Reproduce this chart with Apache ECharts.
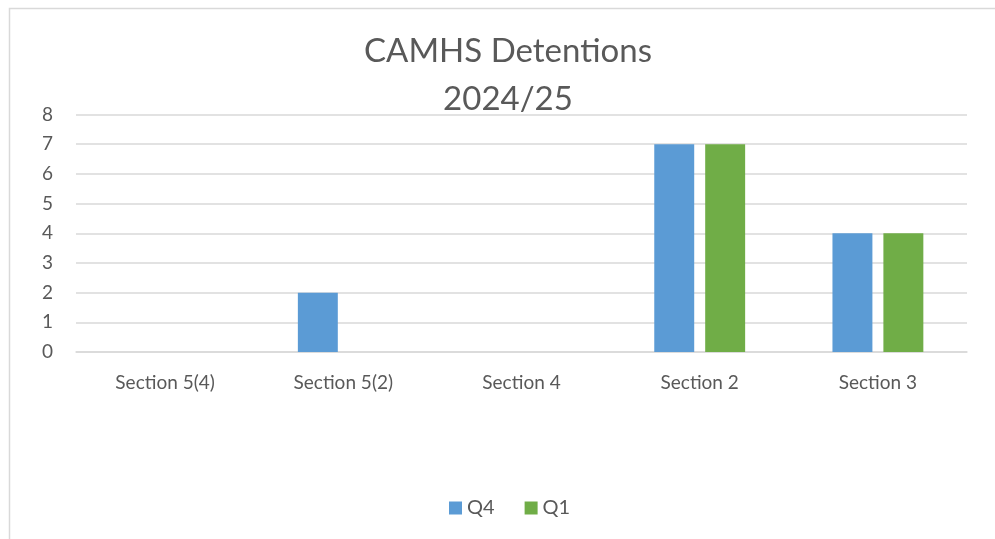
<!DOCTYPE html>
<html>
<head>
<meta charset="utf-8">
<script src="https://cdn.jsdelivr.net/npm/echarts@6/dist/echarts.min.js"></script>
<style>html,body{margin:0;padding:0;background:#fff}#c{width:995px;height:539px}</style>
</head>
<body>
<div id="c"></div>
<script>
const categories = ['Section 5(4)', 'Section 5(2)', 'Section 4', 'Section 2', 'Section 3'];
const q4Values = [0, 2, 0, 7, 4];
const q1Values = [0, 0, 0, 7, 4];
const seriesNames = ['Q4', 'Q1'];
const titleText = 'CAMHS Detentions\n2024/25';

const FONT = 'Lato, "Open Sans", sans-serif';
const chart = echarts.init(document.getElementById('c'));
chart.setOption({
  animation: false,
  color: ['#5B9BD5', '#70AD47'],
  graphic: [{
    type: 'rect', left: 7, top: 6, silent: true,
    shape: { width: 1000, height: 545 },
    style: { fill: 'none', stroke: '#d9d9d9', lineWidth: 1.5 }
  }],
  title: {
    text: titleText, left: 503, textAlign: 'center', top: 22,
    textStyle: { fontFamily: FONT, fontSize: 33, fontWeight: 'normal', color: '#595959', lineHeight: 48 }
  },
  legend: {
    data: seriesNames, bottom: 16, left: 444, itemWidth: 13, itemHeight: 13, itemGap: 30,
    icon: 'rect',
    textStyle: { fontFamily: FONT, fontSize: 20, color: '#595959' }
  },
  grid: { left: 76, right: 28, top: 114.5, bottom: 187, containLabel: false },
  xAxis: {
    type: 'category', data: categories,
    axisLine: { lineStyle: { color: '#d9d9d9', width: 1.5 } },
    axisTick: { show: false },
    axisLabel: { fontFamily: FONT, fontSize: 19, color: '#595959', margin: 21 }
  },
  yAxis: {
    type: 'value', min: 0, max: 8, interval: 1,
    axisLine: { show: false }, axisTick: { show: false },
    splitLine: { lineStyle: { color: '#d9d9d9', width: 1.5 } },
    axisLabel: { fontFamily: FONT, fontSize: 19, color: '#595959', margin: 23 }
  },
  series: [
    { name: seriesNames[0], type: 'bar', data: q4Values, barGap: '27.5%', barCategoryGap: '49%' },
    { name: seriesNames[1], type: 'bar', data: q1Values, barGap: '27.5%', barCategoryGap: '49%' }
  ]
});
</script>
</body>
</html>
